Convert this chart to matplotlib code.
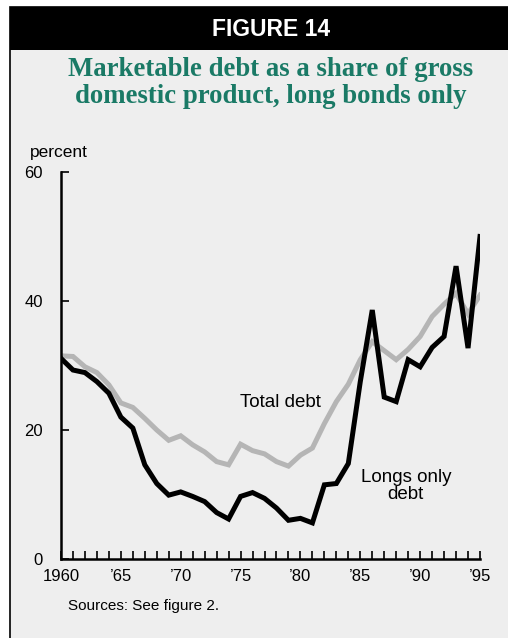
import matplotlib
matplotlib.use("Agg")
import matplotlib.pyplot as plt
from matplotlib.patches import Rectangle
from matplotlib.ticker import FixedLocator, MultipleLocator

# years and values
years = list(range(1960, 1996))

total_debt = [31.5, 31.4, 29.8, 28.9, 27.0, 24.2, 23.5, 21.8, 20.0, 18.4,
              19.1, 17.7, 16.6, 15.1, 14.6, 17.8, 16.8, 16.3, 15.1, 14.4,
              16.1, 17.2, 21.0, 24.4, 27.1, 30.9, 33.7, 32.3, 30.9, 32.5,
              34.5, 37.6, 39.5, 41.2, 38.0, 40.9]

longs_only = [31.1, 29.3, 28.9, 27.5, 25.7, 22.0, 20.3, 14.6, 11.7, 9.9,
              10.4, 9.7, 8.9, 7.2, 6.2, 9.7, 10.3, 9.4, 7.9, 6.0,
              6.3, 5.6, 11.5, 11.7, 14.8, 27.5, 38.6, 25.1, 24.4, 30.9,
              29.8, 32.8, 34.5, 45.4, 32.7, 50.0]

x_ticks = [1960, 1965, 1970, 1975, 1980, 1985, 1990, 1995]
x_labels = ["1960", "\u201965", "\u201970", "\u201975", "\u201980", "\u201985", "\u201990", "\u201995"]
y_ticks = [0, 20, 40, 60]

fundo = "#eeeeee"
verde = "#1a7a66"
W, H = 508, 638

fig = plt.figure(figsize=(W / 100, H / 100), dpi=100)
fig.patch.set_facecolor("white")

# painel cinza com borda e faixa preta do titulo (atras dos eixos)
fig.patches.append(Rectangle((9.5 / W, -0.1), 1, 1.1 - 7 / H, transform=fig.transFigure,
                             facecolor=fundo, edgecolor="black", linewidth=1.2, zorder=-2))
fig.patches.append(Rectangle((9.5 / W, 1 - 50 / H), 1, 43 / H, transform=fig.transFigure,
                             facecolor="black", edgecolor="none", zorder=-1))

sans = "Liberation Sans"
fig.text(271 / W, 1 - 29 / H, "FIGURE 14", color="white", fontsize=16.5,
         fontweight="bold", family=sans, ha="center", va="center")
fig.text(271 / W, 1 - 83 / H, "Marketable debt as a share of gross\ndomestic product, long bonds only",
         color=verde, fontsize=19.3, fontweight="bold", family="Liberation Serif",
         ha="center", va="center", linespacing=1.12)
fig.text(30 / W, 1 - 152 / H, "percent", fontsize=12.5, family=sans, ha="left", va="center")
fig.text(68 / W, 1 - 606 / H, "Sources: See figure 2.", fontsize=11, family=sans,
         ha="left", va="center")

ax = fig.add_axes([61 / W, 1 - 559 / H, 419 / W, 387 / H])
ax.set_facecolor("none")
ax.plot(years, total_debt, color="#b5b5b5", linewidth=3.6, solid_joinstyle="miter")
ax.plot(years, longs_only, color="black", linewidth=3.6, solid_joinstyle="miter")

ax.set_xlim(1960, 1995)
ax.set_ylim(0, 60)
for lado in ["top", "right"]:
    ax.spines[lado].set_visible(False)
for lado in ["left", "bottom"]:
    ax.spines[lado].set_linewidth(1.8)

ax.xaxis.set_major_locator(FixedLocator(x_ticks))
ax.xaxis.set_minor_locator(MultipleLocator(1))
ax.set_xticklabels(x_labels)
ax.set_yticks(y_ticks)
ax.tick_params(axis="x", which="both", direction="in", length=6, width=1.2, pad=7,
               labelsize=12)
ax.tick_params(axis="y", which="both", direction="in", length=6, width=1.2, pad=13,
               labelsize=12)
for lbl in ax.get_xticklabels() + ax.get_yticklabels():
    lbl.set_family(sans)

ax.text(1978.3, 24.3, "Total debt", fontsize=13.5, family=sans, ha="center", va="center")
ax.text(1988.8, 11.3, "Longs only\ndebt", fontsize=13.5, family=sans, ha="center",
        va="center", linespacing=0.95)

fig.savefig("out.png", dpi=100, facecolor=fig.get_facecolor())
